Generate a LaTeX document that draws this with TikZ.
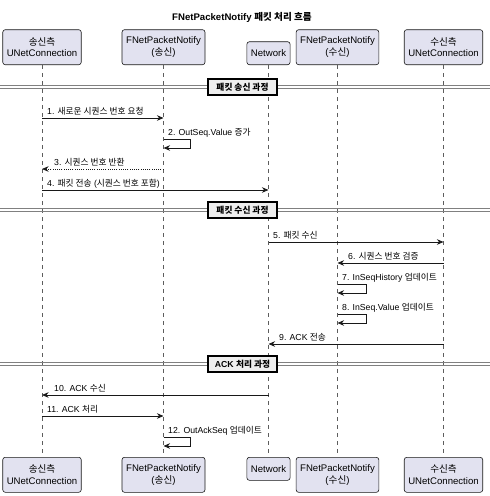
\documentclass[tikz,border=0pt]{standalone}
\usepackage{fontspec}
\setmainfont{Liberation Sans}
\newfontfamily\kr{Noto Sans CJK KR}
\usetikzlibrary{arrows.meta}
\definecolor{partfill}{HTML}{E2E2F0}
\definecolor{ink}{HTML}{181818}
\definecolor{divfill}{HTML}{EEEEEE}
\tikzset{
  part/.style={draw=ink, line width=0.6pt, fill=partfill, rounded corners=2.5pt,
    align=center, font=\fontsize{9.6}{11.5}\selectfont, inner xsep=4pt, inner ysep=0pt, minimum height=35pt},
  partone/.style={part, minimum height=23pt},
  life/.style={draw=ink!70, line width=0.5pt, dash pattern=on 4pt off 4pt},
  msg/.style={draw=ink, line width=0.8pt, -{Stealth[length=6.5pt,width=5.5pt,inset=2pt]}},
  ret/.style={msg, dash pattern=on 1pt off 1.2pt},
  lbl/.style={anchor=base west, inner sep=0pt, font=\fontsize{8.7}{10}\selectfont},
  divline/.style={draw=ink!55, line width=0.9pt},
  divbox/.style={draw=black, line width=1.4pt, fill=divfill, inner xsep=5pt, inner ysep=0pt,
    minimum width=69pt, minimum height=16pt, font=\bfseries\fontsize{8.7}{10}\selectfont},
  titlefont/.style={font=\bfseries\fontsize{9.6}{11}\selectfont}
}
\begin{document}
\begin{tikzpicture}[x=1pt,y=-1pt]
\useasboundingbox (0,0) rectangle (490,496);
\node[titlefont] (title) at (242,17) {FNetPacketNotify {\kr 패킷 처리 흐름}};
% top participants
\node[part, anchor=south, minimum width=77pt] (tA) at (42,65) {{\kr 송신측}\\UNetConnection};
\node[part, anchor=south, minimum width=83pt] (tB) at (163.5,65) {FNetPacketNotify\\({\kr 송신})};
\node[partone, anchor=south, minimum width=43pt] (tC) at (268.5,65) {Network};
\node[part, anchor=south, minimum width=81pt] (tD) at (337.5,65) {FNetPacketNotify\\({\kr 수신})};
\node[part, anchor=south, minimum width=77pt] (tE) at (443.5,65) {{\kr 수신측}\\UNetConnection};
% bottom participants
\node[part, anchor=north, minimum width=77pt] (bA) at (42,457) {{\kr 송신측}\\UNetConnection};
\node[part, anchor=north, minimum width=83pt] (bB) at (163.5,457) {FNetPacketNotify\\({\kr 송신})};
\node[partone, anchor=north, minimum width=43pt] (bC) at (268.5,457) {Network};
\node[part, anchor=north, minimum width=81pt] (bD) at (337.5,457) {FNetPacketNotify\\({\kr 수신})};
\node[part, anchor=north, minimum width=77pt] (bE) at (443.5,457) {{\kr 수신측}\\UNetConnection};
% lifelines
\foreach \p in {A,B,C,D,E} {\draw[life] (t\p.south) -- (b\p.north);}
% dividers
\foreach \y/\n in {87/1,210/2,364/3} {
  \coordinate (d\n la) at (0,\y-1.6); \coordinate (d\n ra) at (490,\y-1.6);
  \coordinate (d\n lb) at (0,\y+1.6); \coordinate (d\n rb) at (490,\y+1.6);
  \draw[divline] (d\n la) -- (d\n ra);
  \draw[divline] (d\n lb) -- (d\n rb);
}
\node[divbox] (dv1) at (242.5,87) {{\kr 패킷 송신 과정}};
\node[divbox] (dv2) at (242.5,210) {{\kr 패킷 수신 과정}};
\node[divbox] (dv3) at (242.5,364) {ACK {\kr 처리 과정}};
% 1
\draw[msg] (tA |- 0,118) -- (tB |- 0,118);
\node[lbl] (l1) at (47,114.5) {1. {\kr 새로운 시퀀스 번호 요청}};
% 2
\coordinate (s2a) at (tB |- 0,139); \coordinate (s2b) at (190.5,139);
\coordinate (s2c) at (190.5,148); \coordinate (s2d) at (tB |- 0,148);
\draw[msg] (s2a) -- (s2b) -- (s2c) -- (s2d);
\node[lbl] (l2) at (168,135.5) {2. OutSeq.Value {\kr 증가}};
% 3
\draw[ret] (tB |- 0,169) -- (tA |- 0,169);
\node[lbl] (l3) at (54,165.5) {3. {\kr 시퀀스 번호 반환}};
% 4
\draw[msg] (tA |- 0,190) -- (tC |- 0,190);
\node[lbl] (l4) at (47,186.5) {4. {\kr 패킷 전송} ({\kr 시퀀스 번호 포함})};
% 5
\draw[msg] (tC |- 0,242) -- (tE |- 0,242);
\node[lbl] (l5) at (273,238.5) {5. {\kr 패킷 수신}};
% 6
\draw[msg] (tE |- 0,263) -- (tD |- 0,263);
\node[lbl] (l6) at (348,259.5) {6. {\kr 시퀀스 번호 검증}};
% 7
\coordinate (s7a) at (tD |- 0,284); \coordinate (s7b) at (366,284);
\coordinate (s7c) at (366,293); \coordinate (s7d) at (tD |- 0,293);
\draw[msg] (s7a) -- (s7b) -- (s7c) -- (s7d);
\node[lbl] (l7) at (342,280.5) {7. InSeqHistory {\kr 업데이트}};
% 8
\coordinate (s8a) at (tD |- 0,314); \coordinate (s8b) at (366,314);
\coordinate (s8c) at (366,323); \coordinate (s8d) at (tD |- 0,323);
\draw[msg] (s8a) -- (s8b) -- (s8c) -- (s8d);
\node[lbl] (l8) at (342,310.5) {8. InSeq.Value {\kr 업데이트}};
% 9
\draw[msg] (tE |- 0,344) -- (tC |- 0,344);
\node[lbl] (l9) at (279,340.5) {9. ACK {\kr 전송}};
% 10
\draw[msg] (tC |- 0,395) -- (tA |- 0,395);
\node[lbl] (l10) at (54,391.5) {10. ACK {\kr 수신}};
% 11
\draw[msg] (tA |- 0,416) -- (tB |- 0,416);
\node[lbl] (l11) at (47,412.5) {11. ACK {\kr 처리}};
% 12
\coordinate (s12a) at (tB |- 0,437); \coordinate (s12b) at (190.5,437);
\coordinate (s12c) at (190.5,446); \coordinate (s12d) at (tB |- 0,446);
\draw[msg] (s12a) -- (s12b) -- (s12c) -- (s12d);
\node[lbl] (l12) at (168,433.5) {12. OutAckSeq {\kr 업데이트}};
\end{tikzpicture}
\end{document}
